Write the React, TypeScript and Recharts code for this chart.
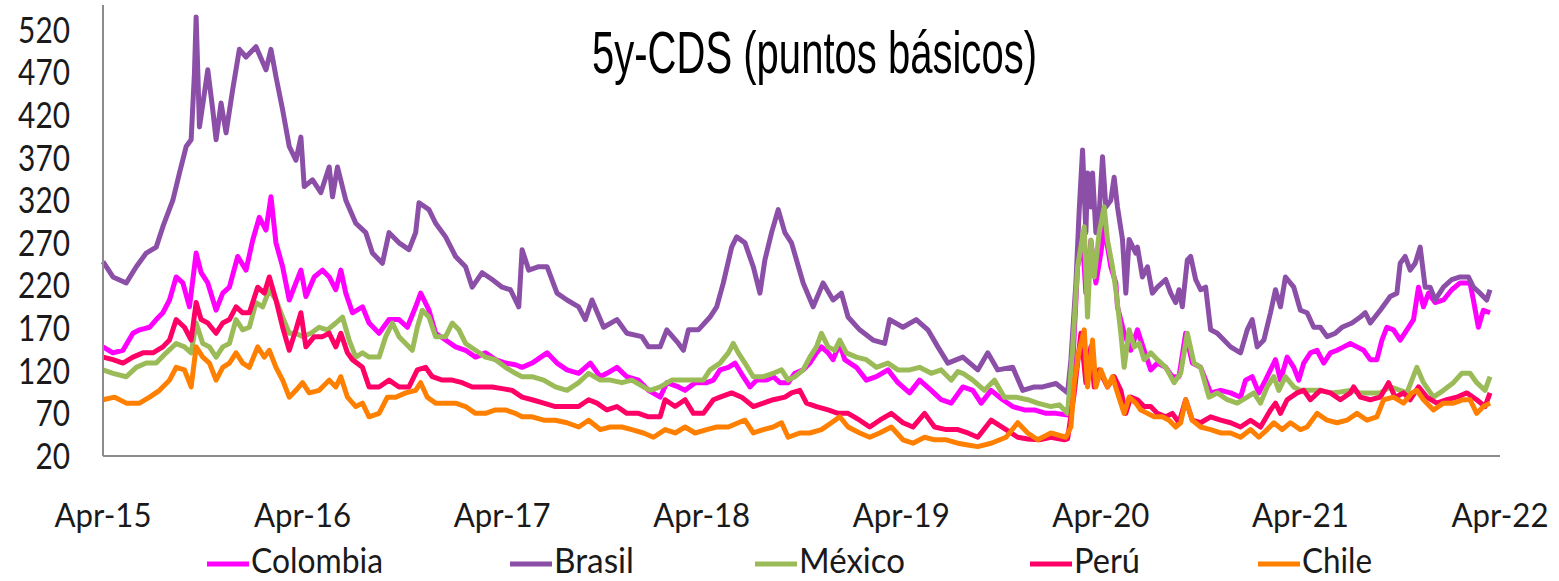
import React from 'react';
import { LineChart, Line, XAxis, YAxis } from 'recharts';

// Each point is [months since Apr-2015, 5y CDS in basis points]
const colombia: [number, number][] = [
  [0, 148], [0.6, 141], [1.2, 144], [1.8, 164], [2.2, 168], [2.8, 171], [3.2, 180], [3.6, 188], [4.0, 203], [4.4, 230],
  [4.8, 223], [5.2, 195], [5.6, 258], [5.9, 235], [6.3, 223], [6.8, 191], [7.2, 211], [7.6, 218], [8.1, 254], [8.6, 238],
  [9.0, 273], [9.4, 300], [9.8, 285], [10.1, 324], [10.4, 270], [10.8, 242], [11.2, 203], [11.6, 223], [11.9, 238], [12.2, 207],
  [12.7, 230], [13.2, 238], [13.6, 230], [14.0, 215], [14.3, 238], [14.6, 211], [15.0, 188], [15.6, 195], [16.0, 176], [16.6, 164],
  [17.2, 180], [17.8, 180], [18.3, 171], [18.8, 195], [19.1, 211], [19.6, 191], [20.0, 164], [20.6, 156], [21.2, 148], [21.8, 144],
  [22.4, 136], [23.0, 141], [23.6, 133], [24.2, 129], [24.8, 127], [25.2, 124], [25.8, 129], [26.7, 141], [27.3, 129], [27.9, 121],
  [28.6, 117], [29.3, 129], [29.9, 113], [30.3, 117], [30.9, 124], [31.5, 113], [32.2, 109], [32.8, 97], [33.5, 89], [33.9, 106],
  [34.6, 101], [35.0, 97], [35.6, 106], [36.3, 106], [36.7, 109], [37.1, 121], [37.6, 124], [38.0, 129], [38.5, 113], [38.9, 101],
  [39.3, 109], [39.9, 109], [40.3, 113], [40.7, 106], [41.2, 106], [41.6, 117], [42.1, 121], [42.5, 129], [42.9, 141], [43.2, 148],
  [43.6, 141], [43.9, 133], [44.3, 152], [44.6, 133], [45.3, 124], [45.9, 109], [46.5, 113], [47.2, 121], [47.8, 106], [48.5, 94],
  [49.1, 109], [49.8, 97], [50.4, 86], [51.0, 82], [51.7, 101], [52.3, 97], [52.8, 82], [53.4, 97], [54.1, 86], [54.7, 78],
  [55.4, 74], [56.0, 74], [56.7, 70], [57.3, 70], [58.0, 68], [58.3, 124], [58.6, 242], [58.9, 273], [59.1, 211], [59.4, 273],
  [59.7, 223], [60.0, 258], [60.2, 289], [60.6, 242], [60.9, 223], [61.0, 195], [61.4, 164], [61.8, 144], [62.2, 168], [62.6, 144],
  [63.0, 121], [63.4, 129], [63.9, 124], [64.3, 113], [64.7, 113], [65.1, 164], [65.5, 129], [66.0, 124], [66.6, 94], [67.2, 97],
  [67.8, 94], [68.4, 89], [68.7, 109], [69.1, 113], [69.5, 94], [69.9, 109], [70.2, 121], [70.5, 133], [70.8, 109], [71.2, 136],
  [71.6, 124], [71.9, 109], [72.2, 129], [72.6, 141], [73.0, 144], [73.4, 129], [73.8, 141], [74.2, 144], [74.6, 148], [75.0, 152],
  [75.4, 148], [75.8, 144], [76.2, 133], [76.6, 133], [76.9, 156], [77.2, 171], [77.6, 168], [78.0, 156], [78.4, 168], [78.8, 180],
  [79.1, 218], [79.4, 195], [79.7, 211], [80.1, 200], [80.6, 203], [81.1, 215], [81.6, 223], [82.2, 223], [82.4, 203], [82.7, 171],
  [83.0, 191], [83.4, 188],
];

const brasil: [number, number][] = [
  [0, 248], [0.6, 230], [1.4, 223], [2.0, 242], [2.6, 258], [3.2, 265], [3.6, 289], [4.2, 320], [4.6, 352], [5.0, 383],
  [5.3, 391], [5.5, 470], [5.6, 535], [5.8, 406], [6.1, 446], [6.3, 473], [6.6, 426], [6.8, 391], [7.1, 434], [7.4, 399],
  [7.8, 450], [8.2, 497], [8.6, 488], [9.2, 500], [9.8, 473], [10.1, 497], [10.4, 465], [10.8, 426], [11.2, 383], [11.6, 367],
  [11.9, 394], [12.1, 336], [12.6, 344], [13.1, 329], [13.6, 359], [13.8, 324], [14.1, 359], [14.6, 320], [15.2, 293], [15.8, 282],
  [16.2, 258], [16.8, 246], [17.2, 282], [17.8, 270], [18.4, 262], [18.8, 282], [19.0, 317], [19.6, 309], [20.0, 293], [20.6, 277],
  [21.2, 254], [21.8, 242], [22.2, 218], [22.8, 235], [23.4, 227], [24.0, 218], [24.5, 215], [25.0, 195], [25.2, 262], [25.6, 238],
  [26.2, 242], [26.7, 242], [27.3, 211], [27.9, 203], [28.6, 195], [29.0, 180], [29.4, 203], [30.1, 171], [30.9, 180], [31.5, 164],
  [32.4, 160], [32.8, 148], [33.5, 148], [33.9, 168], [34.6, 152], [34.9, 144], [35.2, 168], [35.8, 168], [36.5, 183], [36.9, 195],
  [37.3, 223], [37.8, 265], [38.1, 277], [38.6, 270], [39.1, 242], [39.5, 211], [39.8, 250], [40.2, 282], [40.6, 309], [41.0, 282],
  [41.4, 270], [42.1, 223], [42.7, 195], [43.3, 223], [43.9, 203], [44.4, 211], [44.8, 183], [45.5, 168], [46.3, 156], [47.0, 152],
  [47.3, 180], [48.1, 171], [48.9, 180], [49.6, 168], [50.2, 148], [50.8, 129], [51.7, 136], [52.6, 121], [53.2, 141], [53.8, 121],
  [54.7, 124], [55.3, 97], [56.0, 101], [56.5, 101], [57.3, 105], [58.0, 94], [58.2, 133], [58.5, 223], [58.7, 309], [58.9, 379],
  [59.1, 282], [59.2, 352], [59.4, 312], [59.5, 352], [59.7, 282], [59.9, 305], [60.1, 371], [60.3, 312], [60.6, 320], [60.8, 347],
  [61.0, 312], [61.3, 274], [61.5, 211], [61.7, 274], [62.1, 258], [62.2, 265], [62.5, 230], [62.8, 242], [63.1, 211], [63.4, 218],
  [63.9, 227], [64.2, 211], [64.5, 200], [64.7, 215], [64.9, 195], [65.2, 250], [65.4, 254], [65.7, 227], [66.0, 215], [66.3, 218],
  [66.6, 168], [67.0, 164], [67.4, 156], [67.8, 148], [68.4, 141], [68.8, 168], [69.1, 180], [69.4, 148], [69.8, 156], [70.2, 188],
  [70.5, 215], [70.8, 195], [71.1, 230], [71.6, 218], [72.0, 191], [72.4, 188], [72.8, 171], [73.2, 171], [73.6, 160], [74.1, 164],
  [74.5, 171], [75.1, 176], [75.6, 183], [75.9, 188], [76.2, 176], [76.8, 191], [77.4, 207], [77.8, 211], [78.0, 246], [78.3, 254],
  [78.6, 238], [78.9, 246], [79.2, 265], [79.5, 218], [79.8, 218], [80.1, 203], [80.6, 218], [81.1, 227], [81.6, 230], [82.1, 230],
  [82.4, 218], [82.8, 211], [83.2, 203], [83.4, 215],
];

const mexico: [number, number][] = [
  [0, 121], [0.6, 117], [1.4, 113], [2.0, 124], [2.6, 129], [3.2, 129], [3.8, 141], [4.4, 152], [4.9, 148], [5.3, 141],
  [5.6, 176], [6.0, 152], [6.4, 148], [6.8, 136], [7.2, 148], [7.6, 152], [8.0, 180], [8.4, 168], [8.8, 171], [9.2, 200],
  [9.6, 195], [10.0, 215], [10.4, 203], [10.8, 183], [11.2, 164], [11.6, 164], [12.0, 160], [12.5, 164], [13.0, 171], [13.5, 168],
  [14.0, 176], [14.4, 183], [14.8, 156], [15.2, 136], [15.6, 141], [16.0, 136], [16.6, 136], [17.0, 160], [17.4, 176], [17.8, 160],
  [18.2, 152], [18.6, 144], [18.9, 171], [19.2, 191], [19.6, 183], [20.0, 160], [20.6, 160], [21.0, 176], [21.4, 168], [21.8, 152],
  [22.4, 144], [23.0, 136], [23.6, 133], [24.2, 124], [24.8, 117], [25.2, 113], [25.8, 113], [26.5, 109], [27.2, 101], [27.9, 97],
  [28.6, 106], [29.2, 117], [29.9, 109], [30.5, 109], [31.2, 106], [31.8, 109], [32.5, 101], [32.9, 97], [33.5, 101], [34.2, 109],
  [34.8, 109], [35.4, 109], [36.1, 109], [36.5, 121], [37.1, 129], [37.6, 141], [37.9, 152], [38.2, 141], [38.6, 129], [39.1, 113],
  [39.7, 113], [40.3, 117], [40.8, 121], [41.2, 109], [41.6, 113], [42.1, 121], [42.5, 136], [42.9, 148], [43.2, 164], [43.6, 148],
  [44.0, 144], [44.3, 156], [44.7, 141], [45.3, 136], [45.9, 133], [46.5, 124], [47.2, 129], [47.8, 121], [48.5, 121], [49.1, 124],
  [49.8, 117], [50.4, 121], [51.0, 109], [51.4, 119], [51.7, 117], [52.3, 109], [53.0, 97], [53.6, 109], [54.2, 89], [54.9, 89],
  [55.6, 86], [56.2, 82], [57.0, 78], [57.5, 80], [58.0, 70], [58.3, 144], [58.6, 242], [59.0, 289], [59.2, 183], [59.4, 273],
  [59.6, 230], [59.9, 282], [60.2, 312], [60.4, 273], [60.7, 242], [60.9, 215], [61.2, 164], [61.4, 124], [61.7, 168], [62.0, 148],
  [62.3, 152], [62.6, 133], [63.0, 141], [63.4, 133], [63.9, 124], [64.4, 106], [64.8, 117], [65.2, 164], [65.6, 129], [66.0, 124],
  [66.5, 89], [67.0, 94], [67.6, 86], [68.2, 82], [68.8, 89], [69.2, 94], [69.6, 82], [70.0, 101], [70.4, 113], [70.7, 97],
  [71.1, 113], [71.6, 101], [72.0, 97], [72.6, 97], [73.2, 97], [73.8, 94], [74.4, 95], [75.0, 97], [75.6, 94], [76.2, 94],
  [76.8, 94], [77.4, 101], [78.0, 97], [78.4, 94], [79.0, 124], [79.4, 106], [80.0, 89], [80.6, 97], [81.2, 106], [81.7, 117],
  [82.2, 117], [82.6, 106], [83.1, 97], [83.4, 113],
];

const peru: [number, number][] = [
  [0, 136], [0.6, 133], [1.2, 129], [1.8, 136], [2.4, 141], [3.0, 141], [3.6, 148], [4.0, 156], [4.4, 180], [4.9, 171],
  [5.3, 156], [5.6, 200], [5.9, 180], [6.3, 176], [6.8, 164], [7.2, 176], [7.6, 180], [8.0, 195], [8.4, 188], [8.8, 188],
  [9.3, 218], [9.7, 211], [10.0, 230], [10.4, 203], [10.8, 171], [11.2, 144], [11.6, 168], [11.9, 188], [12.2, 148], [12.7, 160],
  [13.2, 160], [13.6, 164], [14.0, 148], [14.3, 164], [14.7, 141], [15.0, 133], [15.6, 124], [16.0, 101], [16.6, 101], [17.2, 109],
  [17.8, 101], [18.4, 101], [18.9, 121], [19.4, 124], [19.8, 113], [20.4, 109], [21.0, 109], [21.6, 106], [22.2, 101], [22.8, 101],
  [23.4, 101], [24.0, 99], [24.6, 97], [25.2, 89], [25.8, 86], [26.5, 82], [27.2, 78], [27.9, 78], [28.6, 78], [29.2, 86],
  [29.7, 82], [30.3, 74], [30.9, 78], [31.5, 70], [32.2, 70], [32.8, 66], [33.5, 66], [33.8, 86], [34.4, 78], [35.0, 86],
  [35.5, 70], [36.1, 70], [36.7, 86], [37.1, 89], [37.8, 94], [38.4, 89], [39.1, 78], [39.7, 82], [40.3, 86], [41.0, 89],
  [41.4, 94], [41.9, 97], [42.3, 82], [42.9, 78], [43.6, 74], [44.2, 70], [44.8, 70], [45.5, 62], [46.1, 54], [46.7, 62],
  [47.4, 70], [48.1, 59], [48.7, 54], [49.4, 70], [50.0, 54], [50.7, 51], [51.4, 51], [52.0, 47], [52.6, 42], [53.4, 62],
  [54.3, 51], [55.0, 42], [55.6, 40], [56.3, 39], [57.0, 42], [57.8, 39], [58.0, 40], [58.4, 94], [58.8, 164], [59.1, 106],
  [59.4, 148], [59.6, 101], [59.9, 121], [60.4, 101], [60.8, 113], [61.2, 97], [61.5, 70], [61.8, 89], [62.2, 86], [62.6, 78],
  [63.0, 78], [63.4, 70], [63.9, 66], [64.3, 70], [64.7, 59], [65.1, 86], [65.5, 62], [66.0, 59], [66.6, 66], [67.2, 62],
  [67.8, 59], [68.4, 54], [69.0, 62], [69.6, 54], [70.2, 74], [70.5, 82], [70.8, 70], [71.2, 86], [71.8, 94], [72.2, 97],
  [72.6, 86], [73.2, 97], [73.8, 94], [74.4, 86], [75.0, 94], [75.2, 101], [75.6, 89], [76.2, 86], [76.8, 89], [77.3, 106],
  [77.7, 89], [78.2, 94], [78.6, 86], [79.1, 101], [79.6, 89], [80.2, 82], [80.8, 86], [81.4, 89], [82.0, 94], [82.6, 86],
  [83.1, 78], [83.4, 94],
];

const chile: [number, number][] = [
  [0, 86], [0.7, 89], [1.4, 82], [2.2, 82], [2.8, 89], [3.4, 97], [4.0, 109], [4.4, 124], [4.9, 121], [5.3, 101],
  [5.6, 148], [6.0, 136], [6.4, 129], [6.8, 109], [7.2, 124], [7.6, 129], [8.0, 141], [8.4, 129], [8.8, 124], [9.3, 148],
  [9.7, 136], [10.0, 144], [10.4, 124], [10.8, 109], [11.2, 89], [11.6, 97], [12.0, 106], [12.4, 94], [13.0, 97], [13.6, 109],
  [14.0, 101], [14.3, 113], [14.7, 89], [15.2, 78], [15.6, 82], [16.0, 66], [16.6, 70], [17.1, 89], [17.6, 89], [18.2, 94],
  [18.8, 97], [19.1, 106], [19.5, 89], [20.0, 82], [20.6, 82], [21.2, 82], [21.8, 78], [22.4, 70], [23.0, 70], [23.6, 74],
  [24.2, 74], [24.8, 70], [25.2, 66], [25.8, 66], [26.5, 62], [27.2, 62], [27.9, 59], [28.6, 54], [29.2, 62], [29.9, 51],
  [30.5, 54], [31.2, 54], [31.8, 51], [32.5, 47], [33.1, 42], [33.8, 51], [34.4, 47], [35.0, 54], [35.6, 47], [36.3, 51],
  [36.9, 54], [37.6, 54], [38.2, 59], [38.6, 62], [39.1, 47], [39.7, 51], [40.3, 54], [40.8, 59], [41.2, 42], [41.9, 47],
  [42.5, 47], [43.2, 51], [43.8, 59], [44.3, 66], [44.8, 54], [45.5, 47], [46.1, 42], [46.7, 47], [47.4, 54], [48.1, 39],
  [48.7, 35], [49.4, 42], [50.0, 39], [50.7, 39], [51.4, 35], [52.0, 33], [52.6, 31], [53.4, 35], [54.3, 42], [55.0, 59],
  [55.6, 47], [56.2, 39], [57.0, 47], [57.9, 42], [58.2, 54], [58.4, 106], [58.7, 144], [59.0, 168], [59.2, 101], [59.5, 156],
  [59.7, 101], [60.0, 121], [60.4, 101], [60.7, 113], [61.0, 94], [61.4, 70], [61.7, 89], [62.1, 82], [62.4, 74], [62.8, 70],
  [63.2, 66], [63.7, 66], [64.1, 62], [64.5, 54], [64.8, 59], [65.1, 86], [65.5, 62], [66.0, 54], [66.6, 51], [67.2, 47],
  [67.8, 47], [68.4, 42], [69.0, 51], [69.5, 42], [70.0, 51], [70.4, 59], [70.9, 51], [71.4, 59], [72.0, 51], [72.4, 54],
  [73.0, 70], [73.6, 62], [74.2, 59], [74.8, 62], [75.4, 70], [76.0, 62], [76.6, 66], [77.0, 86], [77.6, 89], [78.2, 82],
  [78.7, 94], [79.0, 97], [79.4, 86], [80.0, 74], [80.6, 82], [81.2, 82], [81.8, 86], [82.2, 86], [82.6, 70], [83.0, 78],
  [83.4, 82],
];

const yTicks = [20, 70, 120, 170, 220, 270, 320, 370, 420, 470, 520];
const xTicks = [0, 12, 24, 36, 48, 60, 72, 84];
const xLabels = ['Apr-15', 'Apr-16', 'Apr-17', 'Apr-18', 'Apr-19', 'Apr-20', 'Apr-21', 'Apr-22'];

const series = [
  { name: 'Colombia', color: '#FF00FF', points: colombia },
  { name: 'Brasil', color: '#8B4FA8', points: brasil },
  { name: 'México', color: '#9BBB59', points: mexico },
  { name: 'Perú', color: '#FF0066', points: peru },
  { name: 'Chile', color: '#FF8000', points: chile },
];

const LABEL_FONT = 'Lato, "Noto Sans", sans-serif';
const TITLE_FONT = '"Liberation Sans Narrow", "Liberation Sans", Arial, sans-serif';
const AXIS_COLOR = '#8c8c8c';

// legend slot for each series: swatch start and text width
const legendSlots = [
  { x: 207, w: 132 },
  { x: 510, w: 80 },
  { x: 755, w: 106 },
  { x: 1030, w: 66 },
  { x: 1258, w: 70 },
];

const YTick = ({ x, y, payload }: any) => {
  const label = String(payload.value);
  const w = label.length * 17.3;
  return (
    <text
      x={x - 25 - w}
      y={y + 13}
      fontFamily={LABEL_FONT}
      fontSize={36}
      fill="#1a1a1a"
      textLength={w}
      lengthAdjust="spacingAndGlyphs"
    >
      {label}
    </text>
  );
};

const XTick = ({ x, y, payload }: any) => {
  const label = xLabels[xTicks.indexOf(payload.value)] ?? '';
  return (
    <text
      x={x - 48.5}
      y={y + 63}
      fontFamily={LABEL_FONT}
      fontSize={33}
      fill="#1a1a1a"
      textLength={97}
      lengthAdjust="spacingAndGlyphs"
    >
      {label}
    </text>
  );
};

const Overlay = () => (
  <svg
    width={1559}
    height={581}
    style={{ position: 'absolute', left: 0, top: 0, pointerEvents: 'none' }}
  >
    <text
      x={592}
      y={73}
      fontFamily={TITLE_FONT}
      fontSize={60}
      fill="#000"
      textLength={445}
      lengthAdjust="spacingAndGlyphs"
    >
      5y-CDS (puntos básicos)
    </text>
    {series.map((s, i) => {
      const slot = legendSlots[i];
      return (
        <g key={s.name}>
          <line x1={slot.x} x2={slot.x + 42} y1={564} y2={564} stroke={s.color} strokeWidth={5} />
          <text
            x={slot.x + 44}
            y={573}
            fontFamily={LABEL_FONT}
            fontSize={34}
            fill="#1a1a1a"
            textLength={slot.w}
            lengthAdjust="spacingAndGlyphs"
          >
            {s.name}
          </text>
        </g>
      );
    })}
  </svg>
);

export default function App() {
  return (
    <div style={{ position: 'absolute', left: 0, top: 0, width: 1559, height: 581, background: '#fff' }}>
      <LineChart width={1559} height={581} margin={{ top: 5, right: 59, bottom: 0, left: 0 }}>
        <XAxis
          type="number"
          dataKey="m"
          domain={[0, 84]}
          ticks={xTicks}
          height={125}
          tickLine={false}
          axisLine={{ stroke: AXIS_COLOR, strokeWidth: 2 }}
          tick={<XTick />}
          interval={0}
          allowDuplicatedCategory={false}
        />
        <YAxis
          type="number"
          domain={[20, 549]}
          ticks={yTicks}
          width={103}
          tickLine={false}
          axisLine={{ stroke: AXIS_COLOR, strokeWidth: 2 }}
          tick={<YTick />}
          interval={0}
        />
        {series.map((s) => (
          <Line
            key={s.name}
            name={s.name}
            data={s.points.map(([m, v]) => ({ m, v }))}
            dataKey="v"
            type="linear"
            stroke={s.color}
            strokeWidth={5}
            strokeLinejoin="round"
            dot={false}
            activeDot={false}
            isAnimationActive={false}
          />
        ))}
      </LineChart>
      <Overlay />
    </div>
  );
}
